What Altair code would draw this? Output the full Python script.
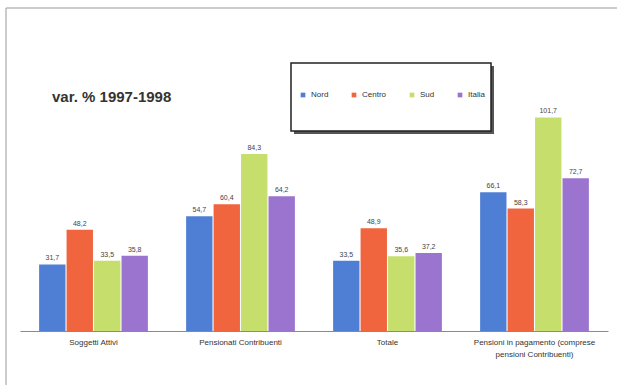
import altair as alt
import pandas as pd

categories = [
    "Soggetti Attivi",
    "Pensionati Contribuenti",
    "Totale",
    "Pensioni in pagamento (comprese|pensioni Contribuenti)",
]
areas = ["Nord", "Centro", "Sud", "Italia"]
colors = ["#4f7fd4", "#f0643e", "#c6df6c", "#9b74cf"]

nord = [31.7, 54.7, 33.5, 66.1]
centro = [48.2, 60.4, 48.9, 58.3]
sud = [33.5, 84.3, 35.6, 101.7]
italia = [35.8, 64.2, 37.2, 72.7]

rows = []
for series, name in zip([nord, centro, sud, italia], areas):
    for cat, v in zip(categories, series):
        rows.append({"cat": cat, "area": name, "v": v,
                     "lab": f"{v:.1f}".replace(".", ",")})
df = pd.DataFrame(rows)

x = alt.X("cat:N", sort=categories, title=None,
          scale=alt.Scale(paddingInner=0.26, paddingOuter=0.13),
          axis=alt.Axis(labelAngle=0, ticks=False, domainColor="#8a8a8a",
                        domainWidth=1, labelFontSize=8, labelColor="#333",
                        labelFont="Liberation Sans", labelPadding=7,
                        labelExpr="split(datum.label, '|')", labelLineHeight=12))
xo = alt.XOffset("area:N", sort=areas, scale=alt.Scale(paddingInner=0.04))
y = alt.Y("v:Q", scale=alt.Scale(domain=[0, 110]), axis=None)
color = alt.Color("area:N", sort=areas,
                  scale=alt.Scale(domain=areas, range=colors),
                  legend=alt.Legend(title=None, orient="none", direction="horizontal",
                                    legendX=279, legendY=-9, symbolType="square",
                                    symbolSize=22, labelFontSize=8, labelColor="#333",
                                    labelFont="Liberation Sans", columnPadding=21,
                                    symbolStrokeWidth=0))

bars = alt.Chart(df).mark_bar().encode(x=x, xOffset=xo, y=y, color=color)
labels = alt.Chart(df).mark_text(dy=-6, fontSize=7, color="#444",
                                 font="Liberation Sans").encode(
    x=x, xOffset=xo, y=y, text="lab:N")

title_df = pd.DataFrame({"t": ["var. % 1997-1998"]})
title = alt.Chart(title_df).mark_text(align="left", baseline="middle", fontSize=15,
                                      fontWeight="bold", color="#333",
                                      font="Liberation Sans").encode(
    x=alt.value(32), y=alt.value(-3), text="t:N")

shadow = alt.Chart(title_df).mark_rect(fill="#555").encode(
    x=alt.value(274), x2=alt.value(474), y=alt.value(-34), y2=alt.value(34))
box = alt.Chart(title_df).mark_rect(fill="white", stroke="#222", strokeWidth=1.5).encode(
    x=alt.value(271), x2=alt.value(471), y=alt.value(-37), y2=alt.value(31))

frame_left = alt.Chart(title_df).mark_rule(color="#999", strokeWidth=1).encode(
    x=alt.value(-14), y=alt.value(-92), y2=alt.value(290))
frame_top = alt.Chart(title_df).mark_rule(color="#999", strokeWidth=1).encode(
    x=alt.value(-14), x2=alt.value(600), y=alt.value(-92))

chart = alt.layer(frame_left, frame_top, shadow, box, bars, labels, title).properties(
    width=588, height=231,
    autosize=alt.AutoSizeParams(type="none"),
    padding={"left": 20, "top": 100, "right": 9, "bottom": 54},
    background="white",
).configure_view(stroke=None, strokeWidth=0)

chart.save("out.html", embed_options={"renderer": "svg", "actions": False})
